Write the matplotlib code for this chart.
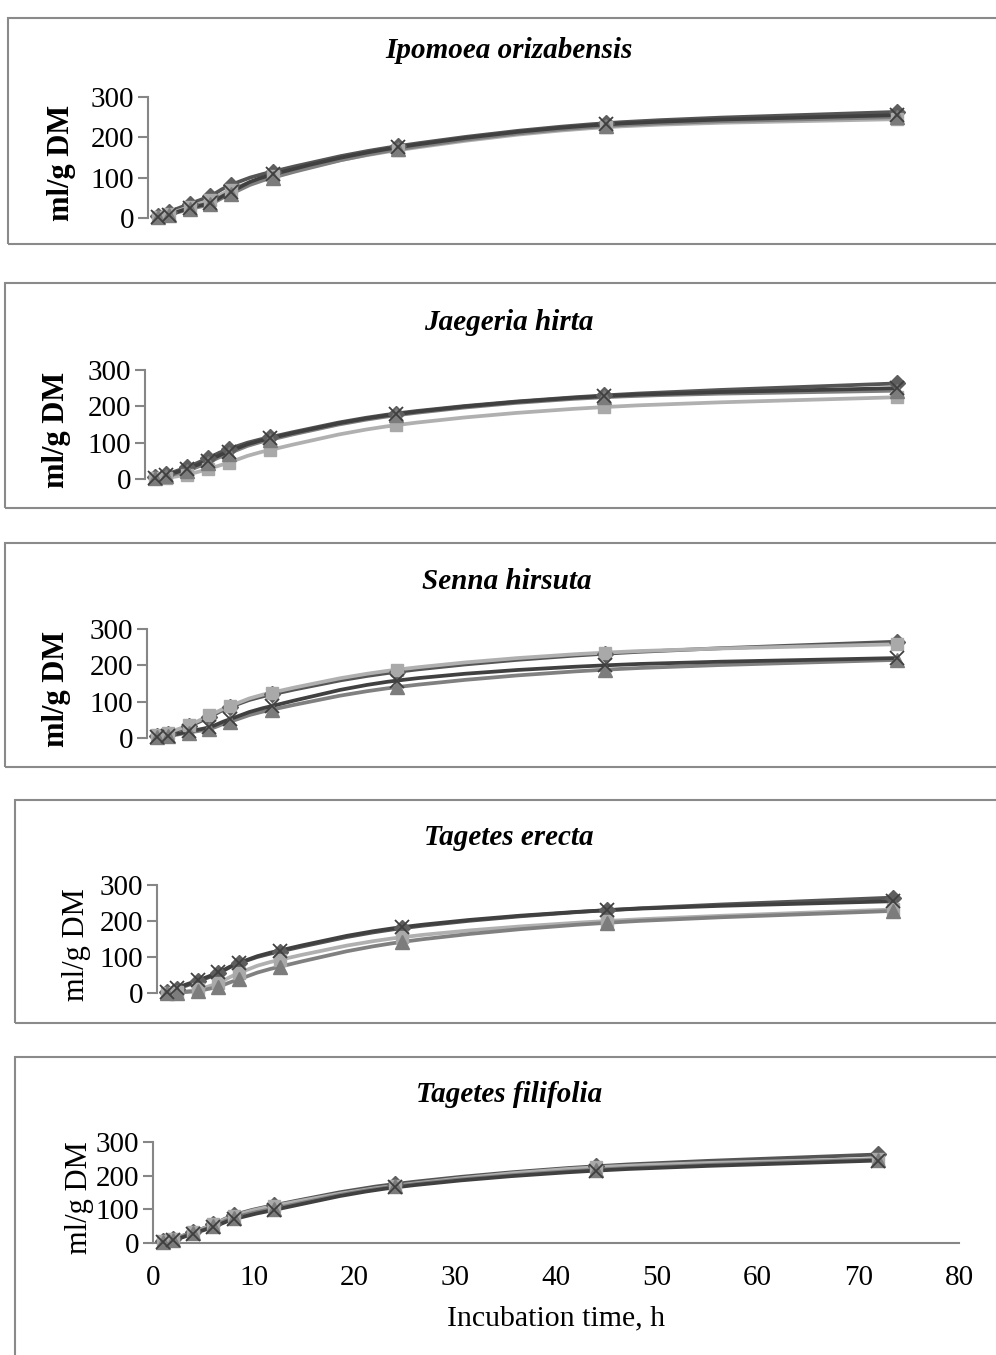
import matplotlib
matplotlib.use("Agg")
import matplotlib.pyplot as plt
from matplotlib.path import Path
from matplotlib.patches import PathPatch, Rectangle
import numpy as np

W, H = 996, 1355
DPI = 100

times = [1, 2, 4, 6, 8, 12, 24, 44, 72]

titles = ["Ipomoea orizabensis", "Jaegeria hirta", "Senna hirsuta",
          "Tagetes erecta", "Tagetes filifolia"]

# Series per panel: diamond, square, triangle, cross
ipomoea_diamond = [5, 15, 35, 55, 82, 115, 178, 235, 263]
ipomoea_square = [3, 10, 28, 45, 70, 105, 168, 225, 245]
ipomoea_triangle = [2, 8, 22, 35, 60, 100, 170, 228, 250]
ipomoea_cross = [3, 8, 25, 38, 65, 108, 175, 232, 255]

jaegeria_diamond = [5, 13, 32, 57, 82, 115, 180, 230, 263]
jaegeria_square = [2, 3, 12, 27, 45, 80, 148, 198, 225]
jaegeria_triangle = [2, 8, 22, 45, 70, 108, 175, 225, 243]
jaegeria_cross = [3, 10, 28, 50, 75, 112, 178, 228, 250]

senna_diamond = [5, 12, 32, 58, 85, 120, 182, 232, 265]
senna_square = [8, 15, 35, 62, 88, 125, 188, 235, 258]
senna_triangle = [2, 5, 15, 25, 45, 78, 140, 188, 215]
senna_cross = [3, 6, 18, 30, 52, 88, 158, 200, 220]

erecta_diamond = [2, 12, 32, 55, 82, 115, 180, 230, 265]
erecta_square = [0, 2, 10, 28, 55, 92, 155, 200, 232]
erecta_triangle = [0, 1, 6, 18, 38, 73, 142, 195, 228]
erecta_cross = [2, 15, 35, 57, 83, 118, 183, 230, 255]

filifolia_diamond = [5, 12, 33, 55, 82, 112, 175, 228, 263]
filifolia_square = [5, 12, 32, 55, 80, 110, 170, 225, 250]
filifolia_triangle = [3, 10, 30, 50, 75, 102, 168, 218, 248]
filifolia_cross = [3, 8, 28, 48, 70, 98, 165, 215, 245]

panel_data = [
    [ipomoea_diamond, ipomoea_square, ipomoea_triangle, ipomoea_cross],
    [jaegeria_diamond, jaegeria_square, jaegeria_triangle, jaegeria_cross],
    [senna_diamond, senna_square, senna_triangle, senna_cross],
    [erecta_diamond, erecta_square, erecta_triangle, erecta_cross],
    [filifolia_diamond, filifolia_square, filifolia_triangle, filifolia_cross],
]

yticks = [0, 100, 200, 300]
xticks = [0, 10, 20, 30, 40, 50, 60, 70, 80]

# styles
markers = ["D", "s", "^", "x"]
mcolors = ["#5e5e5e", "#a9a9a9", "#7c7c7c", "#3f3f3f"]
lcolors = ["#555555", "#b0b0b0", "#808080", "#404040"]
msizes = [8.5, 9, 10, 9.5]

# layout in pixels: (left, right, top(300), bottom(0))
axes_px = [(148, 980, 97, 218), (145, 980, 370, 479), (147, 980, 629, 738),
           (157, 975, 885, 993), (153, 959, 1142, 1243)]
title_px = [(509, 50), (509, 322), (507, 582), (509, 838), (509, 1094)]
ylab_x = [76, 71, 71, 91, 94]
ylab_bold = [True, True, True, False, False]
boxes = [(8, 18, 244), (5, 283, 508), (5, 543, 767), (15, 800, 1023), (15, 1057, 1400)]

SERIF = ["Liberation Serif", "DejaVu Serif"]
plt.rcParams["font.family"] = SERIF

fig = plt.figure(figsize=(W / DPI, H / DPI), dpi=DPI)
fig.patch.set_facecolor("white")


def fx(x):
    return x / W


def fy(y):
    return 1 - y / H


def smooth_path(xs, ys):
    xs = np.asarray(xs, float)
    ys = np.asarray(ys, float)
    n = len(xs)
    verts = [(xs[0], ys[0])]
    codes = [Path.MOVETO]
    for i in range(n - 1):
        p0 = np.array([xs[max(i - 1, 0)], ys[max(i - 1, 0)]])
        p1 = np.array([xs[i], ys[i]])
        p2 = np.array([xs[i + 1], ys[i + 1]])
        p3 = np.array([xs[min(i + 2, n - 1)], ys[min(i + 2, n - 1)]])
        c1 = p1 + (p2 - p0) / 6.0
        c2 = p2 - (p3 - p1) / 6.0
        verts += [tuple(c1), tuple(c2), tuple(p2)]
        codes += [Path.CURVE4] * 3
    return Path(verts, codes)


for k in range(5):
    # panel border box
    bl, bt, bb = boxes[k]
    rect = Rectangle((fx(bl), fy(bb)), fx(1100 - bl), fy(bt) - fy(bb),
                     transform=fig.transFigure, fill=False,
                     edgecolor="#8a8a8a", linewidth=1.5, clip_on=False)
    fig.add_artist(rect)

    l, r, t, b = axes_px[k]
    ax = fig.add_axes([fx(l), fy(b), fx(r - l), fy(t) - fy(b)])
    ax.set_xlim(0, 80)
    ax.set_ylim(0, 300)
    ax.patch.set_alpha(0)
    for s in ["top", "right"]:
        ax.spines[s].set_visible(False)
    ax.spines["left"].set_color("#868686")
    ax.spines["left"].set_linewidth(1.5)
    ax.set_yticks(yticks)
    ax.tick_params(axis="y", direction="out", length=7, width=1.5,
                   color="#868686", labelsize=21, pad=3)
    if k < 4:
        ax.spines["bottom"].set_visible(False)
        ax.set_xticks([])
    else:
        ax.spines["bottom"].set_color("#868686")
        ax.spines["bottom"].set_linewidth(1.5)
        ax.set_xticks(xticks)
        ax.tick_params(axis="x", length=0, labelsize=21, pad=16)
        ax.set_xlabel("Incubation time, h", fontsize=21.5, labelpad=10)

    for j, series in enumerate(panel_data[k]):
        p = smooth_path(times, series)
        patch = PathPatch(p, facecolor="none", edgecolor=lcolors[j],
                          linewidth=2.7, zorder=2 + j, clip_on=False)
        ax.add_patch(patch)
        if markers[j] == "x":
            ax.plot(times, series, linestyle="none", marker="x",
                    markersize=msizes[j], markeredgewidth=1.3,
                    color=mcolors[j], zorder=6 + j, clip_on=False)
        else:
            ax.plot(times, series, linestyle="none", marker=markers[j],
                    markersize=msizes[j], markerfacecolor=mcolors[j],
                    markeredgecolor=mcolors[j], zorder=6 + j, clip_on=False)

    ax.set_ylabel("ml/g DM", fontsize=22,
                  fontweight="bold" if ylab_bold[k] else "normal")
    ax.yaxis.set_label_coords(fx(ylab_x[k]), (fy(t) + fy(b)) / 2 - 0.004,
                              transform=fig.transFigure)

    tx, ty = title_px[k]
    fig.text(fx(tx), fy(ty), titles[k], ha="center", va="center",
             fontsize=21, fontweight="bold", fontstyle="italic")

fig.savefig("out.png", dpi=DPI, facecolor="white")
